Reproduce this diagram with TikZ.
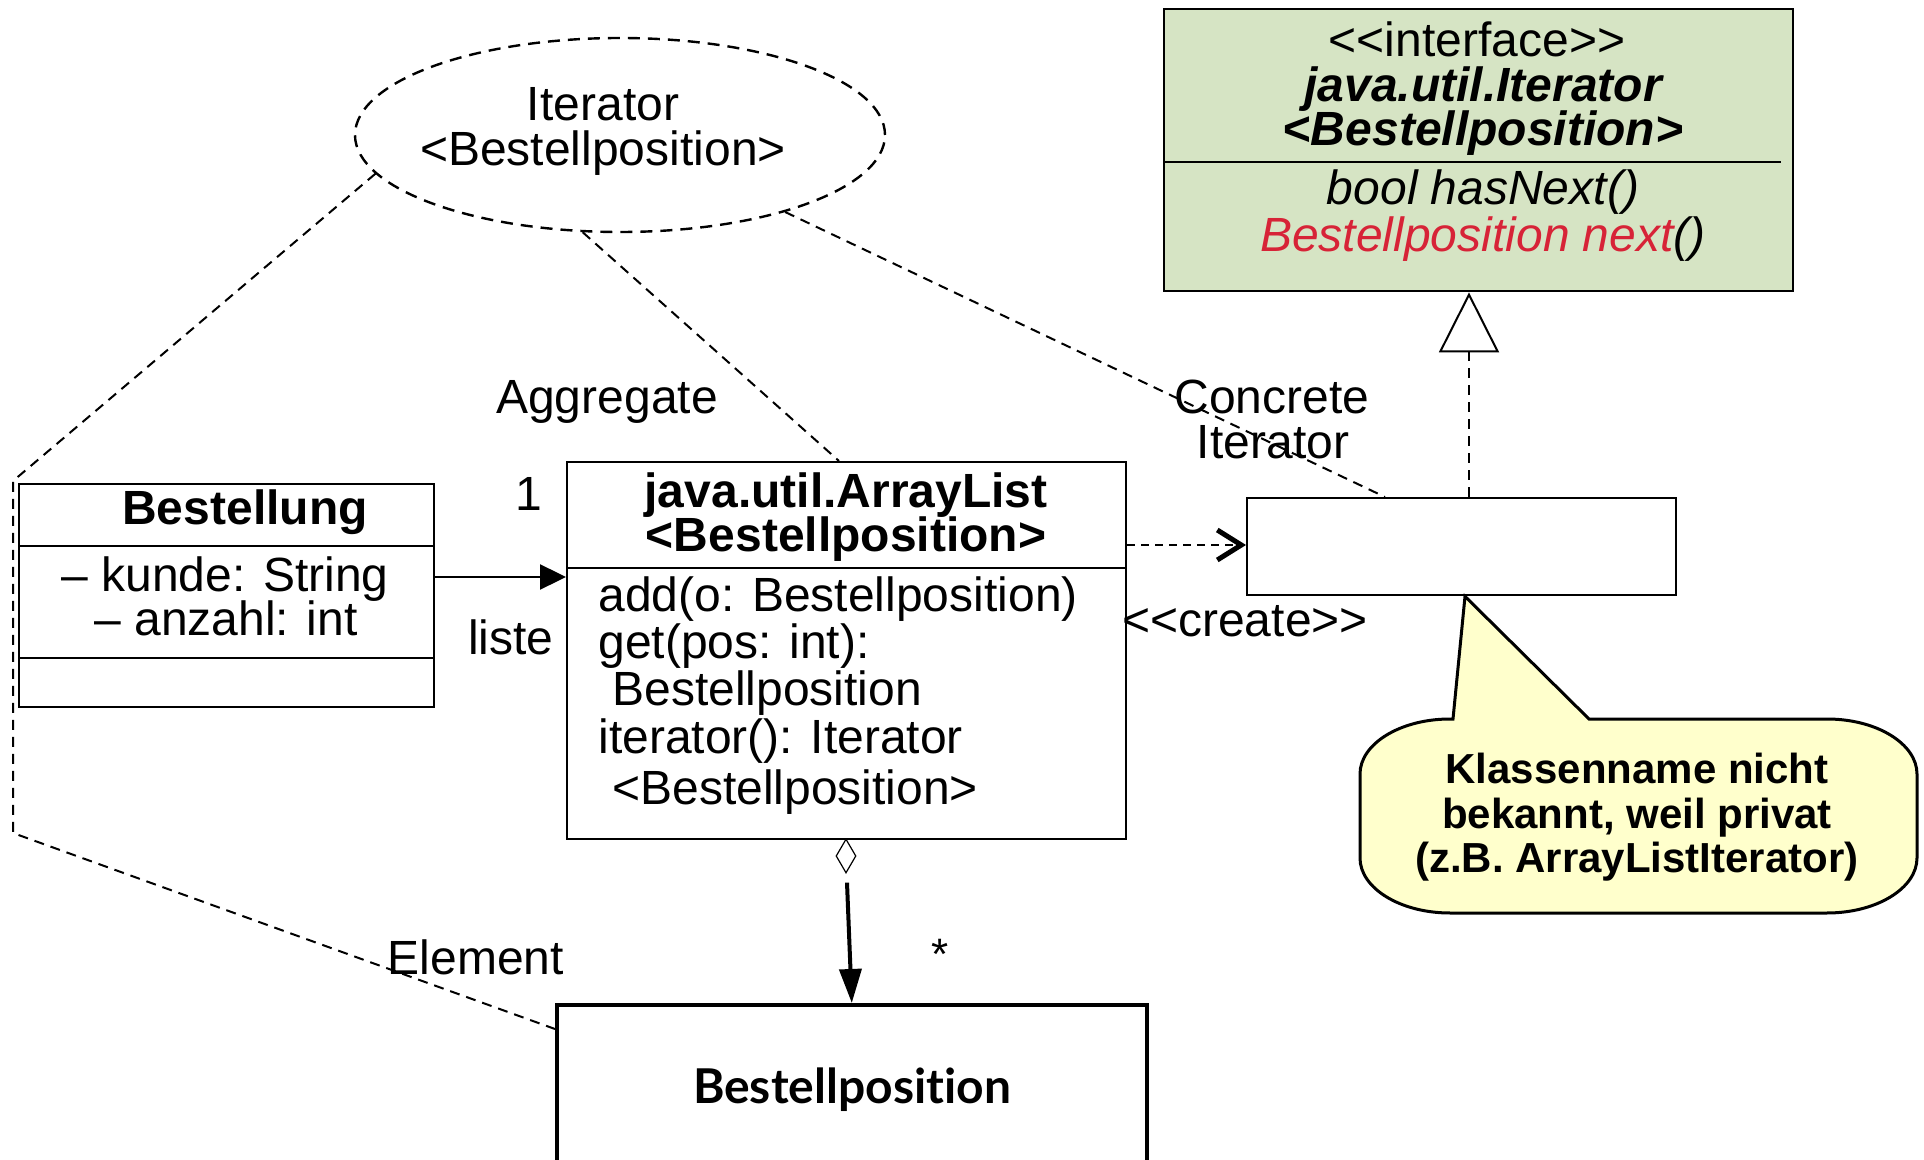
\documentclass[tikz,border=0pt]{standalone}
\usepackage{fontspec}
\setmainfont{Liberation Sans}
\newfontfamily\latofont{Lato}[Ligatures={NoCommon,NoRare,NoDiscretionary}]
\usetikzlibrary{arrows.meta,shapes.geometric,calc}
\definecolor{ifgreen}{RGB}{214,228,196}
\definecolor{nextred}{RGB}{215,35,55}
\definecolor{noteyellow}{RGB}{255,255,204}
\newcommand\dlt{<\kern0pt<}
\newcommand\dgt{>\kern0pt>}
\begin{document}
\begin{tikzpicture}[x=0.5pt,y=-0.5pt,
  umlbox/.style={draw, line width=1.2pt, inner sep=0pt, anchor=north west, fill=white},
  lbl/.style={inner sep=0pt, anchor=base, font=\fontsize{24pt}{28pt}\selectfont},
  notelbl/.style={inner sep=0pt, anchor=base, font=\fontsize{21pt}{25pt}\selectfont\bfseries},
  dashline/.style={dash pattern=on 5pt off 3.5pt, line width=1pt},
  divider/.style={line width=1.2pt}]
\useasboundingbox (0,0) rectangle (1924,1160);
\clip (0,0) rectangle (1924,1160);

% ---- boxes ----
\node[umlbox, minimum width=207.5pt, minimum height=111.5pt] (best) at (18,483) {};
\draw[divider] ($(best.north west)+(0,63)$) -- ($(best.north east)+(0,63)$);
\draw[divider] ($(best.north west)+(0,175)$) -- ($(best.north east)+(0,175)$);

\node[umlbox, minimum width=279.5pt, minimum height=188.5pt] (al) at (566,461) {};
\draw[divider] ($(al.north west)+(0,107)$) -- ($(al.north east)+(0,107)$);

\node[umlbox, minimum width=214.5pt, minimum height=48.5pt] (ci) at (1246,497) {};

\node[umlbox, fill=ifgreen, minimum width=314.5pt, minimum height=141pt] (itf) at (1163,8) {};
\draw[divider] ($(itf.north west)+(0,154)$) -- ($(itf.north west)+(618,154)$);

\node[umlbox, line width=1.8pt, minimum width=295pt, minimum height=100pt] (bp) at (555,1003) {};

\node[draw, ellipse, dash pattern=on 6pt off 4pt, line width=1.2pt, inner sep=0pt,
      minimum width=265pt, minimum height=97pt] (ell) at (620,135) {};

\node[diamond, draw, line width=0.6pt, inner sep=0pt, minimum width=10pt, minimum height=17pt,
      fill=white] (dia) at (846,856) {};

% ---- connectors ----
\coordinate (lc1) at (13,481);
\coordinate (lc2) at (13,833);
\draw[dashline] (ell.189) -- (lc1) -- (lc2) -- ($(bp.north west)+(0,26)$);
\draw[dashline] (ell.249) -- ($(al.north west)+(273,0)$);
\draw[dashline] (ell.-25) -- ($(ci.north west)+(139,0)$);

\draw[line width=1.2pt, -{Triangle[length=13pt,width=12.5pt]}] (best.east |- 0,577) -- (al.west |- 0,577);

\draw[dash pattern=on 4pt off 3pt, line width=1.2pt,
      -{Straight Barb[length=12pt,width=15pt,line width=2.5pt]}] (al.east |- 0,545) -- (ci.west |- 0,545);

\draw[dashline, -{Triangle[open,fill=white,length=30pt,width=30pt,line width=1pt]}]
  ($(ci.north west)+(223,0)$) -- ($(itf.south west)+(306,0)$);

\draw[line width=2pt, -{Triangle[length=17pt,width=11pt]}] ($(dia.south)+(1,9)$) -- (bp.north);

% ---- callout ----
\coordinate (tip) at ($(ci.south west)+(219,0)$);
\draw[fill=noteyellow, line width=1.5pt]
  (1453,719) -- (tip) -- (1589,719) -- (1827,719)
  .. controls (1877,719) and (1917,744) .. (1917,774) -- (1917,858)
  .. controls (1917,888) and (1877,913) .. (1827,913) -- (1450,913)
  .. controls (1400,913) and (1360,888) .. (1360,858) -- (1360,774)
  .. controls (1360,744) and (1400,719) .. (1450,719) -- cycle;
\node[notelbl] (n1) at (1637,783) {Klassenname nicht};
\node[notelbl] (n2) at (1637,828) {bekannt, weil privat};
\node[notelbl] (n3) at (1637,872) {(z.B. ArrayListIterator)};

% ---- texts ----
\node[lbl] (it1) at (603,121) {Iterator};
\node[lbl] (it2) at (603,166) {<Bestellposition>};

\node[lbl, font=\fontsize{24pt}{28pt}\selectfont\bfseries] (bt) at (245,525) {Bestellung};
\node[lbl] (ba1) at (225,592) {– kunde: String};
\node[lbl] (ba2) at (226,636) {– anzahl: int};

\node[lbl, font=\fontsize{24pt}{28pt}\selectfont\bfseries] (at1) at (846,508) {java.util.ArrayList};
\node[lbl, font=\fontsize{24pt}{28pt}\selectfont\bfseries] (at2) at (846,552) {<Bestellposition>};
\node[lbl, anchor=base west] (am1) at (598,611) {add(o: Bestellposition)};
\node[lbl, anchor=base west] (am2) at (598,659) {get(pos: int):};
\node[lbl, anchor=base west] (am3) at (612,705) {Bestellposition};
\node[lbl, anchor=base west] (am4) at (598,754) {iterator(): Iterator};
\node[lbl, anchor=base west] (am5) at (612,804) {<Bestellposition>};

\node[lbl] (if1) at (1477,57) {\dlt interface\dgt};
\node[lbl, font=\fontsize{24pt}{28pt}\selectfont\bfseries\itshape] (if2) at (1483,102) {java.util.Iterator};
\node[lbl, font=\fontsize{24pt}{28pt}\selectfont\bfseries\itshape] (if3) at (1483,146) {<Bestellposition>};
\node[lbl, font=\fontsize{24pt}{28pt}\selectfont\itshape] (if4) at (1483,205) {bool hasNext()};
\node[lbl, font=\fontsize{24pt}{28pt}\selectfont\itshape] (if5) at (1483,252) {\textcolor{nextred}{Bestellposition next}()};

\node[lbl] (agg) at (607,414) {Aggregate};
\node[lbl] (one) at (529,511) {1};
\node[lbl] (liste) at (511,654) {liste};
\node[lbl] (cc1) at (1272,414) {Concrete};
\node[lbl] (cc2) at (1273,459) {Iterator};
\node[lbl] (cre) at (1245,637) {\dlt create\dgt};
\node[lbl] (elem) at (476,974) {Element};
\node[inner sep=0pt, font=\fontsize{22pt}{26pt}\selectfont] (star) at (940,954) {*};

\node[lbl, font=\fontsize{24pt}{28pt}\selectfont\latofont\bfseries] (bpt) at (852,1103) {Bestellposition};
\end{tikzpicture}
\end{document}
